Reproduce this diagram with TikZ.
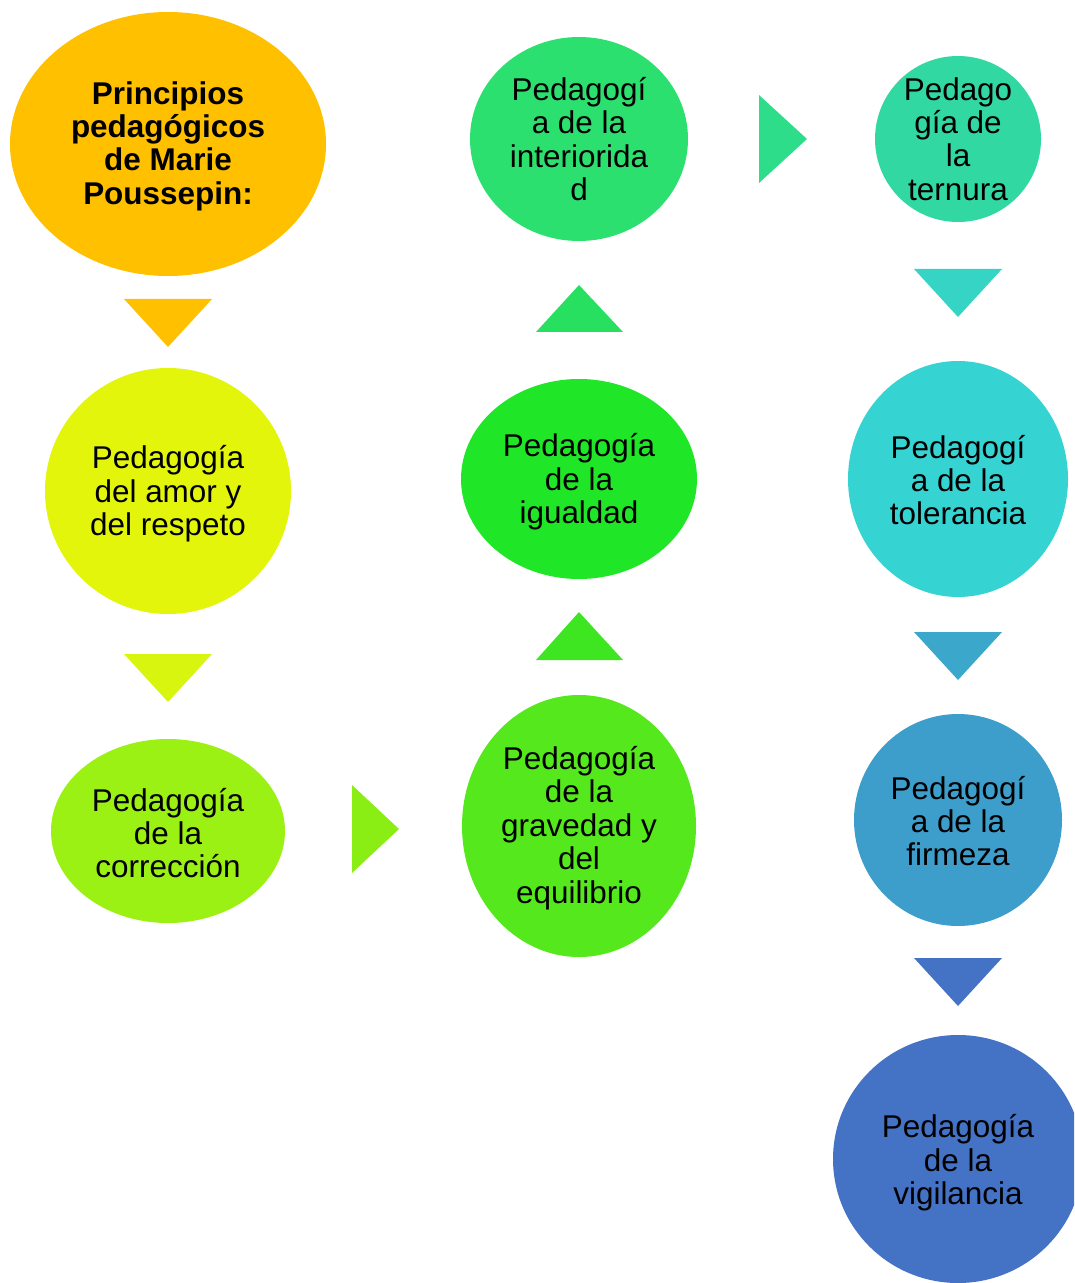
\documentclass[tikz,border=0pt]{standalone}
\usepackage{fontspec}
\setmainfont{Liberation Sans}
\begin{document}
\begin{tikzpicture}[x=0.02cm,y=-0.02cm,
  lbl/.style={align=center,inner sep=0pt,text=black,font=\fontsize{17.9}{19}\selectfont},
  ttl/.style={lbl,font=\fontsize{17.9}{19}\selectfont\bfseries}]
\definecolor{cA}{HTML}{FFC000}
\definecolor{cB}{HTML}{E3F50A}
\definecolor{cBt}{HTML}{D8F50F}
\definecolor{cC}{HTML}{9BF014}
\definecolor{cCt}{HTML}{8AEE14}
\definecolor{cD}{HTML}{55E81C}
\definecolor{cDt}{HTML}{3EE622}
\definecolor{cE}{HTML}{20E628}
\definecolor{cEt}{HTML}{28E060}
\definecolor{cF}{HTML}{2CE070}
\definecolor{cFt}{HTML}{2EDD8A}
\definecolor{cG}{HTML}{31D8A2}
\definecolor{cGt}{HTML}{36D4C5}
\definecolor{cH}{HTML}{36D3D3}
\definecolor{cHt}{HTML}{3BA8CB}
\definecolor{cI}{HTML}{3D9DCB}
\definecolor{cIt}{HTML}{4472C4}
\definecolor{cJ}{HTML}{4472C4}
\useasboundingbox (0,0) rectangle (1074,1283);
\clip (0,0) rectangle (1074,1283);
% ellipses
\fill[cA] (168,144) ellipse (158 and 132);
\fill[cB] (168,491) ellipse (123 and 123);
\fill[cC] (168,831) ellipse (117 and 92);
\fill[cD] (579,826) ellipse (117 and 131);
\fill[cE] (579,479) ellipse (118 and 100);
\fill[cF] (579,139) ellipse (109 and 102);
\fill[cG] (958,139) ellipse (83 and 83);
\fill[cH] (958,479) ellipse (110 and 118);
\fill[cI] (958,820) ellipse (104 and 106);
\fill[cJ] (958,1159) ellipse (125 and 124);
% triangles
\fill[cA] (124,299) -- (212,299) -- (168,347) -- cycle;
\fill[cBt] (124,654) -- (212,654) -- (168,702) -- cycle;
\fill[cCt] (352,785) -- (352,873) -- (399,829) -- cycle;
\fill[cDt] (536,660) -- (623,660) -- (579,612) -- cycle;
\fill[cEt] (536,332) -- (623,332) -- (579,285) -- cycle;
\fill[cFt] (759,95) -- (759,183) -- (807,139) -- cycle;
\fill[cGt] (914,269) -- (1002,269) -- (958,317) -- cycle;
\fill[cHt] (914,632) -- (1002,632) -- (958,680) -- cycle;
\fill[cIt] (914,958) -- (1002,958) -- (958,1006) -- cycle;
% labels
\node[ttl] (n1) at (168,146) {Principios\\pedagógicos\\de Marie\\Poussepin:};
\node[lbl] (n2) at (168,494) {Pedagogía\\del amor y\\del respeto};
\node[lbl] (n3) at (168,833) {Pedagogía\\de la\\corrección};
\node[lbl] (n4) at (579,828) {Pedagogía\\de la\\gravedad y\\del\\equilibrio};
\node[lbl] (n5) at (579,482) {Pedagogía\\de la\\igualdad};
\node[lbl] (n6) at (579,139) {Pedagogí\\a de la\\interiorida\\d};
\node[lbl] (n7) at (958,139) {Pedago\\gía de\\la\\ternura};
\node[lbl] (n8) at (958,480) {Pedagogí\\a de la\\tolerancia};
\node[lbl] (n9) at (958,821) {Pedagogí\\a de la\\firmeza};
\node[lbl] (n10) at (958,1163) {Pedagogía\\de la\\vigilancia};
\end{tikzpicture}
\end{document}
